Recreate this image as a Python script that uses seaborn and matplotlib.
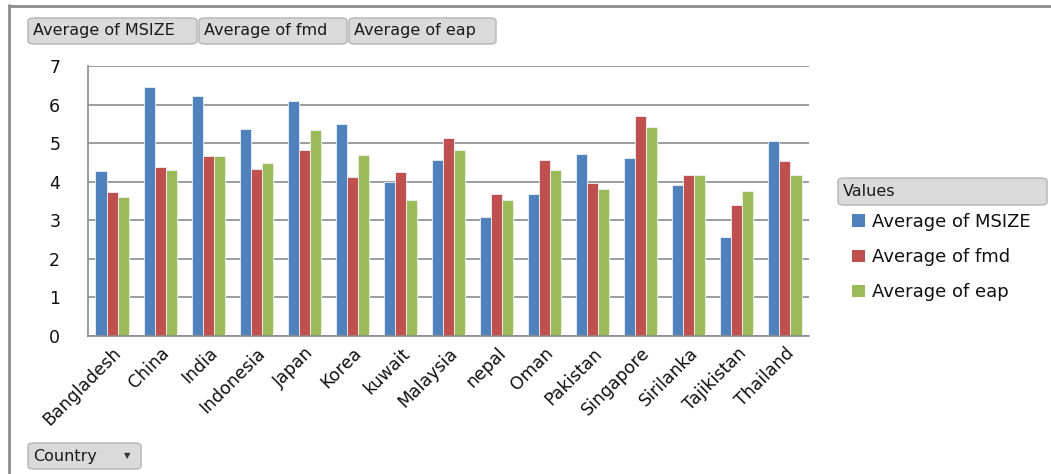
import numpy as np
import pandas as pd

import matplotlib.pyplot as plt
from matplotlib.patches import FancyBboxPatch
from matplotlib.lines import Line2D
import seaborn as sns

sns.set_theme(style='white')
plt.rcParams['font.family'] = ['DejaVu Sans']
plt.rcParams['text.color'] = '#111111'
plt.rcParams['xtick.labelcolor'] = '#111111'
plt.rcParams['ytick.labelcolor'] = '#111111'

countries = ['Bangladesh', 'China', 'India', 'Indonesia', 'Japan', 'Korea', 'kuwait',
             'Malaysia', 'nepal', 'Oman', 'Pakistan', 'Singapore', 'Sirilanka',
             'Tajikistan', 'Thailand']
msize = [4.28, 6.45, 6.23, 5.36, 6.08, 5.49, 4.00, 4.57, 3.09, 3.67, 4.73, 4.62, 3.92, 2.56, 5.05]
fmd = [3.74, 4.37, 4.66, 4.33, 4.83, 4.13, 4.24, 5.14, 3.67, 4.57, 3.96, 5.70, 4.18, 3.39, 4.55]
eap = [3.60, 4.30, 4.66, 4.49, 5.34, 4.68, 3.53, 4.81, 3.53, 4.30, 3.82, 5.41, 4.18, 3.77, 4.18]
series = ['Average of MSIZE', 'Average of fmd', 'Average of eap']
colors = ['#4F81BD', '#C0504D', '#9BBB59']

df = pd.DataFrame({'Country': countries, series[0]: msize, series[1]: fmd, series[2]: eap})
df = df.melt(id_vars='Country', var_name='Series', value_name='Value')

W, H = 1051, 474
fig = plt.figure(figsize=(W / 100, H / 100), dpi=100)
ax = fig.add_axes([88 / W, 1 - 336 / H, (809 - 88) / W, (336 - 66) / H])

sns.barplot(data=df, x='Country', y='Value', hue='Series', palette=colors, width=0.69,
            saturation=1, edgecolor='#eef2f8', linewidth=0.6, ax=ax, legend=True)

ax.set_ylim(0, 7)
ax.set_xlim(-0.5, len(countries) - 0.5)
ax.set_yticks(range(8))
ax.yaxis.grid(True, color='#8c8c8c', linewidth=1.2)
ax.set_axisbelow(True)
for s in ['top', 'right']:
    ax.spines[s].set_visible(False)
for s in ['left', 'bottom']:
    ax.spines[s].set_color('#8c8c8c')
    ax.spines[s].set_linewidth(1.2)
ax.tick_params(axis='y', length=8, color='#8c8c8c', width=1.2, labelsize=12.5, pad=12)
ax.set_xticks(np.arange(-0.5, len(countries)), minor=True)
ax.tick_params(axis='x', which='major', length=0, labelsize=12.5, pad=6)
ax.tick_params(axis='x', which='minor', length=7, color='#8c8c8c', width=1.2, direction='out')
ax.set_xticks(range(len(countries)))
ax.set_xticklabels(countries, rotation=45, ha='right', rotation_mode='anchor')
ax.set_xlabel('')
ax.set_ylabel('')

leg = ax.legend(loc='upper left', bbox_to_anchor=(843 / W, 1 - 204 / H), bbox_transform=fig.transFigure,
                frameon=False, fontsize=13, handlelength=0.7, handleheight=0.7,
                handletextpad=0.4, labelspacing=0.95, borderpad=0)
for h in leg.legend_handles:
    h.set_edgecolor('none')

# frame of the pivot chart
fig.add_artist(Line2D([8.5 / W, 8.5 / W], [0, 1 - 5 / H], transform=fig.transFigure, color='#8c8c8c', lw=2))
fig.add_artist(Line2D([8.5 / W, 1], [1 - 5.5 / H, 1 - 5.5 / H], transform=fig.transFigure, color='#8c8c8c', lw=2))


def button(x0, y0, x1, y1, text, size=11.5, arrow=False):
    p = FancyBboxPatch((x0 / W, 1 - y1 / H), (x1 - x0) / W, (y1 - y0) / H,
                       boxstyle='round,pad=0,rounding_size=0.006', transform=fig.transFigure,
                       facecolor='#dadada', edgecolor='#b4b4b4', lw=1)
    fig.add_artist(p)
    fig.text((x0 + 5) / W, 1 - (y0 + y1) / 2 / H, text, fontsize=size, color='#1a1a1a',
             va='center', ha='left')
    if arrow:
        fig.text((x1 - 14) / W, 1 - (y0 + y1) / 2 / H, '▼', fontsize=6, color='#333333',
                 va='center', ha='center')


button(28, 18, 197, 44, 'Average of MSIZE')
button(199, 18, 347, 44, 'Average of fmd')
button(349, 18, 496, 44, 'Average of eap')
button(838, 178, 1047, 205, 'Values')
button(28, 443, 141, 469, 'Country', arrow=True)

fig.savefig('out.png', dpi=100)
plt.close(fig)
